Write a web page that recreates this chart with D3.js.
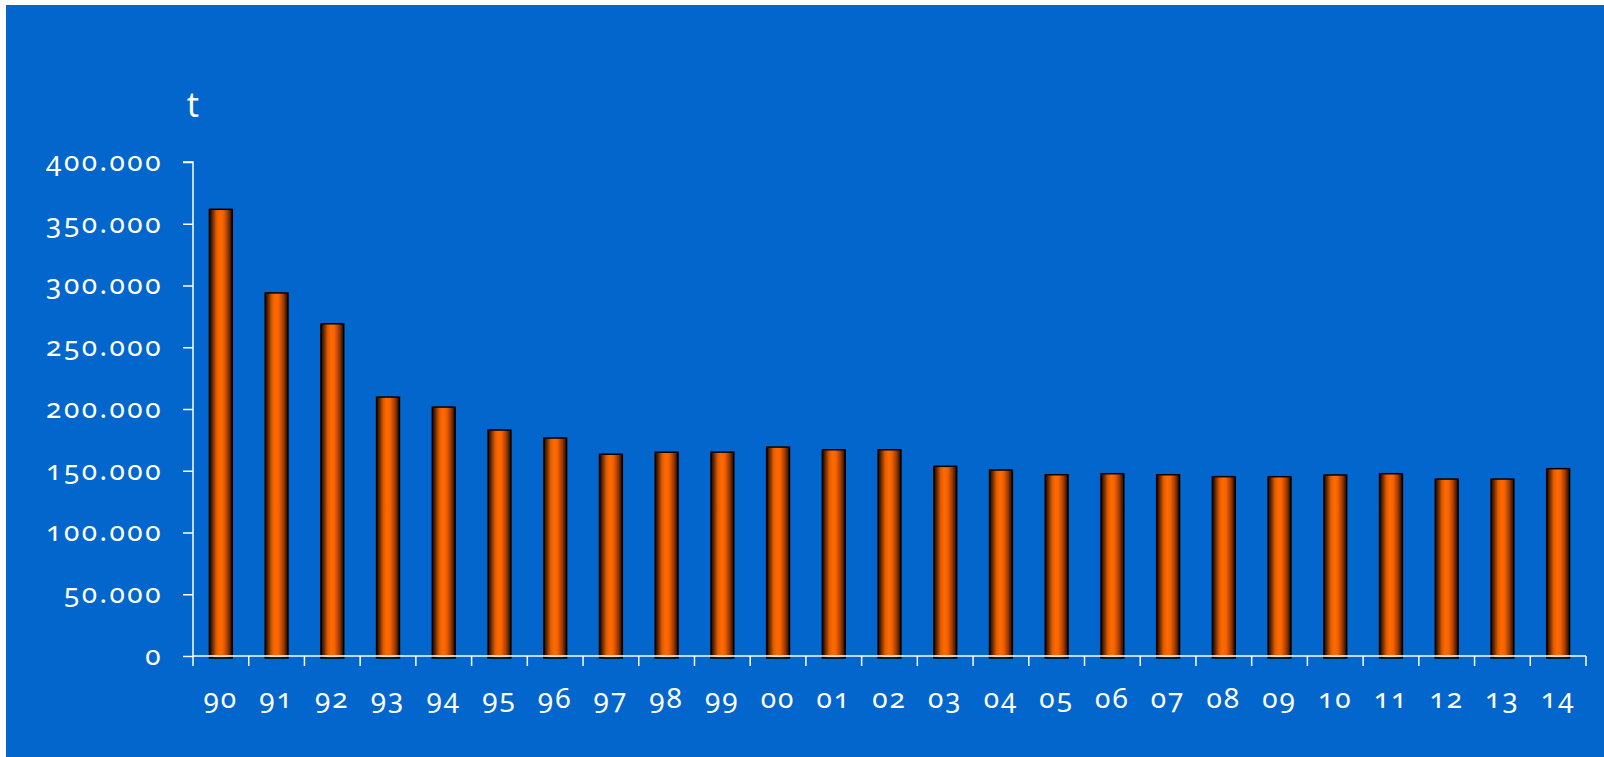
<!DOCTYPE html>
<html><head><meta charset="utf-8">
<script src="https://cdn.jsdelivr.net/npm/d3@7/dist/d3.min.js"></script>
<style>
html,body{margin:0;padding:0;background:#fff;}
svg{display:block;}
text{font-family:"Noto Sans",sans-serif;font-feature-settings:"onum" 1;font-variant-numeric:oldstyle-nums;fill:#fff;}
</style></head>
<body>
<svg id="c" width="1604" height="757"></svg>
<script>
const categories = ["90","91","92","93","94","95","96","97","98","99","00","01","02","03","04","05","06","07","08","09","10","11","12","13","14"];
const values = [361700,294000,269000,209700,201600,183000,176500,163400,165000,165100,169200,167000,167000,153600,150600,146800,147600,146800,145200,145200,146600,147600,143300,143300,151700];
const yTicks = [0,50000,100000,150000,200000,250000,300000,350000,400000];
const yTickLabels = ["0","50.000","100.000","150.000","200.000","250.000","300.000","350.000","400.000"];
const unitLabel = "t";

const svg = d3.select("#c");
svg.append("rect").attr("x",6).attr("y",5).attr("width",1598).attr("height",752).attr("fill","#0266CC");

const x0 = 193, x1 = 1586, yTop = 162, yBot = 656;
const x = d3.scaleBand().domain(categories).range([x0,x1]).paddingInner(0.59).paddingOuter(0.295);
const y = d3.scaleLinear().domain([0,400000]).range([yBot,yTop]);

const defs = svg.append("defs");
const g = defs.append("linearGradient").attr("id","barGrad").attr("x1","0").attr("x2","1").attr("y1","0").attr("y2","0");
[[0,"#140600"],[0.12,"#5e2500"],[0.3,"#e05a00"],[0.45,"#ff6a00"],[0.6,"#f56200"],[0.8,"#a03c00"],[1,"#1a0800"]].forEach(s=>g.append("stop").attr("offset",s[0]).attr("stop-color",s[1]));

// bars
svg.append("g").selectAll("rect").data(values).join("rect")
  .attr("x",(d,i)=>x(categories[i]))
  .attr("y",d=>y(d))
  .attr("width",x.bandwidth())
  .attr("height",d=>yBot - y(d) + 2)
  .attr("fill","url(#barGrad)")
  .attr("stroke","#000").attr("stroke-width",1.5);

// y axis
const yAxis = d3.axisLeft(y).tickValues(yTicks).tickSize(10).tickPadding(20)
  .tickFormat((d,i)=>yTickLabels[i]);
const ya = svg.append("g").attr("transform",`translate(${x0},0)`).call(yAxis);
ya.select(".domain").attr("stroke","#fff").attr("stroke-width",1.5).attr("d",`M-10,${yTop}H0V${yBot}`);
ya.selectAll(".tick line").attr("stroke","#fff").attr("stroke-width",1.5);
ya.selectAll(".tick text").attr("font-size",28).attr("letter-spacing","2.5px").attr("fill","#fff").attr("dy","0.3em");

// x axis
const xAxis = d3.axisBottom(x).tickSize(0).tickPadding(32);
const xa = svg.append("g").attr("transform",`translate(0,${yBot})`).call(xAxis);
xa.select(".domain").attr("stroke","#fff").attr("stroke-width",1.5).attr("d",`M${x0},0H${x1}`);
xa.selectAll(".tick text").attr("font-size",28).attr("letter-spacing","2px").attr("fill","#fff");
// boundary ticks between categories
xa.append("g").selectAll("line").data(d3.range(categories.length+1)).join("line")
  .attr("x1",i=>x0 + i*(x1-x0)/categories.length)
  .attr("x2",i=>x0 + i*(x1-x0)/categories.length)
  .attr("y1",0).attr("y2",10).attr("stroke","#fff").attr("stroke-width",1.5);

svg.append("text").attr("x",x0).attr("y",117).attr("text-anchor","middle").attr("font-size",34).text(unitLabel);
</script>
</body></html>
